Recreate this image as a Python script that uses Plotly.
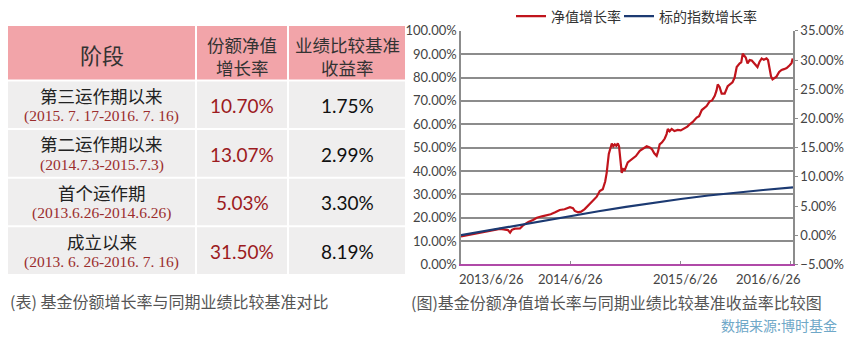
import plotly.graph_objects as go

# ---------------- data ----------------
# Table: fund share NAV growth vs. benchmark return by period
table_header = [["阶段"], ["份额净值", "增长率"], ["业绩比较基准", "收益率"]]
period_names = ["第三运作期以来", "第二运作期以来", "首个运作期", "成立以来"]
period_ranges = ["(2015. 7. 17-2016. 7. 16)", "(2014.7.3-2015.7.3)",
                 "(2013.6.26-2014.6.26)", "(2013. 6. 26-2016. 7. 16)"]
nav_growth_pct = ["10.70%", "13.07%", "5.03%", "31.50%"]
benchmark_pct = ["1.75%", "2.99%", "3.30%", "8.19%"]

# Line chart: NAV growth (left axis, %)
nav_dates = [
    "2013-06-26", "2013-07-20", "2013-08-15", "2013-09-14", "2013-10-08", "2013-11-02",
    "2013-11-15", "2013-11-29", "2013-12-06", "2013-12-12", "2013-12-22", "2014-01-08",
    "2014-01-18", "2014-02-05", "2014-02-20", "2014-03-05", "2014-03-22", "2014-04-08",
    "2014-04-20", "2014-05-05", "2014-05-20", "2014-06-05", "2014-06-23", "2014-07-03",
    "2014-07-09", "2014-07-20", "2014-07-30", "2014-08-11", "2014-08-25", "2014-09-07",
    "2014-09-20", "2014-09-30", "2014-10-10", "2014-10-18", "2014-10-23", "2014-10-30",
    "2014-11-04", "2014-11-09", "2014-11-14", "2014-11-19", "2014-11-24", "2014-11-29",
    "2014-12-03", "2014-12-06", "2014-12-09", "2014-12-12", "2014-12-17", "2014-12-22",
    "2015-01-01", "2015-01-10", "2015-01-18", "2015-01-28", "2015-02-10", "2015-02-22",
    "2015-03-05", "2015-03-15", "2015-03-22", "2015-03-30", "2015-04-07", "2015-04-12",
    "2015-04-17", "2015-04-25", "2015-05-04", "2015-05-10", "2015-05-14", "2015-05-20",
    "2015-05-27", "2015-06-05", "2015-06-16", "2015-06-26", "2015-07-09", "2015-07-18",
    "2015-07-26", "2015-08-05", "2015-08-18", "2015-08-26", "2015-09-04", "2015-09-12",
    "2015-09-20", "2015-09-30", "2015-10-08", "2015-10-17", "2015-10-23", "2015-10-27",
    "2015-11-02", "2015-11-09", "2015-11-19", "2015-11-29", "2015-12-08", "2015-12-15",
    "2015-12-22", "2015-12-29", "2016-01-08", "2016-01-13", "2016-01-18", "2016-01-23",
    "2016-01-28", "2016-02-03", "2016-02-10", "2016-02-17", "2016-02-26", "2016-03-02",
    "2016-03-07", "2016-03-14", "2016-03-21", "2016-03-28", "2016-04-06", "2016-04-11",
    "2016-04-16", "2016-04-21", "2016-04-26", "2016-05-03", "2016-05-09", "2016-05-18",
    "2016-05-26", "2016-06-03", "2016-06-12", "2016-06-22", "2016-06-28", "2016-07-02",
]
nav_values = [
    12.0, 12.6, 13.2, 13.9, 14.6, 15.2,
    15.0, 14.7, 13.6, 14.8, 15.3, 15.4,
    16.7, 18.2, 19.0, 20.0, 20.6, 21.0,
    21.5, 22.3, 23.3, 23.6, 24.5, 24.1,
    22.9, 22.3, 22.6, 23.7, 25.6, 27.3,
    29.0, 31.4, 32.2, 35.5, 39.2, 47.3,
    50.0, 51.8, 50.6, 51.4, 50.8, 51.8,
    50.6, 47.3, 42.0, 39.2, 40.8, 40.4,
    43.7, 44.6, 45.7, 46.4, 48.6, 49.5,
    50.6, 50.1, 49.4, 47.6, 46.5, 48.5,
    51.4, 52.3, 53.9, 55.8, 58.0, 57.0,
    58.0, 57.1, 57.6, 57.4, 58.4, 59.0,
    60.0, 61.0, 62.9, 63.5, 66.1, 66.8,
    67.8, 69.8, 70.2, 72.2, 74.5, 77.1,
    76.0, 73.1, 73.1, 76.3, 77.5, 78.0,
    80.0, 84.5, 86.1, 86.5, 90.2, 89.6,
    88.6, 86.1, 87.5, 87.3, 86.1, 85.6,
    84.5, 86.8, 88.2, 87.6, 88.2, 87.5,
    83.3, 80.5, 79.2, 79.8, 80.4, 82.4,
    83.3, 83.6, 84.1, 85.3, 86.2, 88.2,
]

# Benchmark index growth (right axis, %)
bench_dates = ["2013-06-26", "2013-09-26", "2013-12-26", "2014-03-26", "2014-06-26",
               "2014-09-26", "2014-12-26", "2015-03-26", "2015-06-26", "2015-09-26",
               "2015-12-26", "2016-03-26", "2016-07-03"]
bench_values = [0.00, 0.85, 1.68, 2.50, 3.30, 4.10, 4.85, 5.55, 6.20, 6.80, 7.30, 7.75, 8.19]

x_tick_vals = ["2013-06-26", "2014-06-26", "2015-06-26", "2016-06-26"]
x_tick_text = ["2013/6/26", "2014/6/26", "2015/6/26", "2016/6/26"]

# ---------------- layout helpers ----------------
W, H = 850, 342
CJK = "Noto Sans CJK SC"
NUM = "Lato"


def px(x):
    return x / W


def py(y):
    return 1 - y / H


def label(x, y, text, font, xanchor="center", **kw):
    return dict(xref="paper", yref="paper", x=px(x), y=py(y), text=text,
                showarrow=False, xanchor=xanchor, yanchor="middle", font=font, **kw)


fig = go.Figure()

fig.add_trace(go.Scatter(
    x=nav_dates, y=nav_values, name="净值增长率", mode="lines",
    line=dict(color="#c0141c", width=2.2), yaxis="y", legend="legend",
))
fig.add_trace(go.Scatter(
    x=bench_dates, y=bench_values, name="标的指数增长率", mode="lines",
    line=dict(color="#1c3a72", width=2.2), yaxis="y2", legend="legend2",
))

shapes = []
annotations = []

# ---------------- table ----------------
col_edges = [(8, 195), (197, 287), (289, 405)]
header_band = (19, 75)
row_top, row_h, row_gap = 77, 49, 2
HEADER_BG = "#f2a4a9"
BODY_BG = "#efeeee"

for (x0, x1) in col_edges:
    shapes.append(dict(type="rect", xref="paper", yref="paper",
                       x0=px(x0), x1=px(x1), y0=py(header_band[1]), y1=py(header_band[0]),
                       fillcolor=HEADER_BG, line=dict(width=0), layer="below"))
for i in range(len(period_names)):
    y0 = row_top + i * (row_h + row_gap)
    for (x0, x1) in col_edges:
        shapes.append(dict(type="rect", xref="paper", yref="paper",
                           x0=px(x0), x1=px(x1), y0=py(y0 + row_h), y1=py(y0),
                           fillcolor=BODY_BG, line=dict(width=0), layer="below"))

hy = (header_band[0] + header_band[1]) / 2
for j, lines in enumerate(table_header):
    cx = (col_edges[j][0] + col_edges[j][1]) / 2
    if len(lines) == 1:
        annotations.append(label(cx, hy + 1, lines[0],
                                 dict(family=CJK, size=22, color="#333333")))
    else:
        for k, line in enumerate(lines):
            annotations.append(label(cx, 38 + 24 * k, line,
                                     dict(family=CJK, size=17.5, color="#333333")))

for i in range(len(period_names)):
    y0 = row_top + i * (row_h + row_gap)
    cy = y0 + row_h / 2
    c0 = (col_edges[0][0] + col_edges[0][1]) / 2
    c1 = (col_edges[1][0] + col_edges[1][1]) / 2
    c2 = (col_edges[2][0] + col_edges[2][1]) / 2
    annotations.append(label(c0, cy - 10, period_names[i],
                             dict(family=CJK, size=17.5, color="#222222")))
    annotations.append(label(c0, cy + 12, period_ranges[i],
                             dict(family="Liberation Serif", size=15.5, color="#9b2d2d")))
    annotations.append(label(c1, cy + 1, nav_growth_pct[i],
                             dict(family=NUM, size=19, color="#9c1b1e")))
    annotations.append(label(c2, cy + 1, benchmark_pct[i],
                             dict(family=NUM, size=19, color="#111111")))

# captions
annotations.append(label(8, 307, "(表) 基金份额增长率与同期业绩比较基准对比",
                         dict(family=CJK, size=16, color="#555555"), xanchor="left"))
annotations.append(label(409, 308, "(图)基金份额净值增长率与同期业绩比较基准收益率比较图",
                         dict(family=CJK, size=16, color="#555555"), xanchor="left"))
annotations.append(label(839, 333, "数据来源:博时基金",
                         dict(family=CJK, size=14, color="#6fa8c8"), xanchor="right"))

# x tick labels, kept inside the plot width like the source chart
label_anchor = ["left", "center", "center", "right"]
label_shift = [-4, 0, 5, 12]
for v, t, a, s in zip(x_tick_vals, x_tick_text, label_anchor, label_shift):
    annotations.append(dict(xref="x", yref="paper", x=v, y=py(284), xanchor=a,
                            yanchor="middle", xshift=s, text=t, showarrow=False,
                            font=dict(family=NUM, size=13, color="#444444")))

AX_GRAY = "#8c8c8c"
legend_style = dict(orientation="h", xanchor="left", yanchor="middle", y=py(9),
                    font=dict(family=CJK, size=14, color="#333333"),
                    bgcolor="rgba(0,0,0,0)", itemwidth=30)

fig.update_layout(
    width=W, height=H,
    margin=dict(l=0, r=0, t=0, b=0),
    paper_bgcolor="white", plot_bgcolor="white",
    shapes=shapes, annotations=annotations,
    showlegend=True,
    legend=dict(x=px(511), **legend_style),
    legend2=dict(x=px(619), **legend_style),
    xaxis=dict(
        type="date", domain=[px(461), px(793)],
        range=["2013-06-26", "2016-07-03"],
        tickvals=x_tick_vals, ticktext=["" for _ in x_tick_vals],
        ticks="inside", ticklen=3, tickcolor=AX_GRAY,
        showgrid=False, zeroline=False,
        showline=True, linecolor="#b04aa8", linewidth=2,
    ),
    yaxis=dict(
        domain=[py(269), py(24)], range=[0, 100], dtick=10,
        tickformat=".2f", ticksuffix="%",
        showgrid=True, gridcolor=AX_GRAY, gridwidth=1.5,
        zeroline=False, showline=True, linecolor=AX_GRAY, linewidth=1.5,
        ticks="", tickfont=dict(family=NUM, size=13, color="#444444"),
    ),
    yaxis2=dict(
        overlaying="y", side="right", range=[-5, 35], dtick=5,
        tickformat=".2f", ticksuffix="%",
        showgrid=False, zeroline=False,
        showline=True, linecolor=AX_GRAY, linewidth=1.5,
        ticks="outside", ticklen=3, tickcolor=AX_GRAY,
        tickfont=dict(family=NUM, size=13, color="#444444"),
    ),
)

fig.write_html("out.html")
